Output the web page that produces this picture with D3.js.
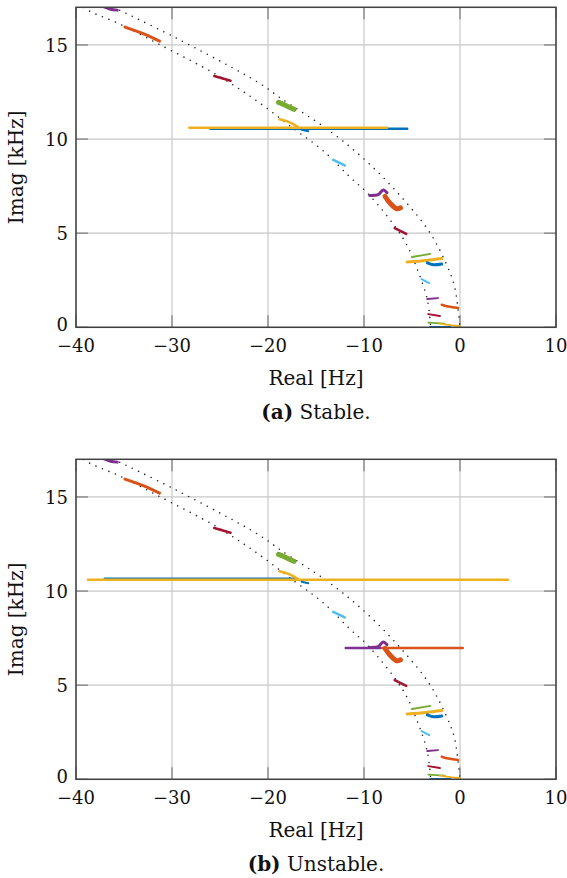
<!DOCTYPE html>
<html>
<head>
<meta charset="utf-8">
<script src="https://cdn.jsdelivr.net/npm/d3@7"></script>
<style>
  body { margin: 0; background: #fff; }
</style>
</head>
<body>
<svg id="fig" width="567" height="878" font-family="'DejaVu Serif', serif"></svg>
<script>
// axis ticks
const xTicks = [-40, -30, -20, -10, 0, 10];
const yTicks = [0, 5, 10, 15];

// MATLAB default colour order
const modeColors = ["#0072BD", "#D95319", "#EDB120", "#7E2F8E", "#77AC30", "#4DBEEE", "#A2142F"];

// dotted guide curves [real Hz, imag kHz]
const guideOuter = [[-36.1,17.0],[-29.7,15.4],[-21.0,13.0],[-18.75,12.2],[-13.5,10.4],[-9.7,8.8],
                    [-6.25,7.0],[-3.1,5.0],[-1.04,2.9],[-0.5,2.0],[0,0]];
const guideInner = [[-39.8,17.2],[-38.6,16.8],[-35.4,16.1],[-31.6,15.1],[-25.3,13.4],[-21.1,12.0],
                    [-17.2,10.5],[-14.3,9.4],[-11.5,8.0],[-9.4,7.0],[-5.9,4.7],[-4.5,3.15],[-3.4,1.45],[-3.05,0]];

// eigenvalue traces common to both cases: [colour index, points]
const tracesCommon = [
  [3, [[-37.2,17.05],[-36.4,16.9],[-35.7,16.85]]],
  [1, [[-34.9,15.95],[-33.0,15.6],[-31.3,15.2]]],
  [6, [[-25.6,13.35],[-23.9,13.1]]],
  [4, [[-18.9,11.95],[-18.2,11.8],[-17.3,11.58]]],
  [2, [[-18.8,11.05],[-17.8,10.9],[-16.9,10.65]]],
  [0, [[-16.5,10.5],[-15.8,10.42]]],
  [5, [[-13.2,8.9],[-12.0,8.6]]],
  [3, [[-9.4,7.0],[-8.5,7.05],[-8.0,7.3],[-7.6,7.15]]],
  [1, [[-7.8,6.95],[-7.3,6.6],[-6.6,6.3],[-6.2,6.35]]],
  [6, [[-6.8,5.27],[-5.6,4.96]]],
  [4, [[-5.0,3.73],[-3.1,3.9]]],
  [2, [[-5.5,3.47],[-3.5,3.55],[-1.9,3.65]]],
  [0, [[-3.4,3.42],[-2.8,3.32],[-1.9,3.36]]],
  [5, [[-4.0,2.56],[-3.2,2.35]]],
  [3, [[-3.4,1.5],[-2.3,1.55]]],
  [1, [[-1.9,1.2],[-1.2,1.1],[-0.2,1.02]]],
  [6, [[-3.3,0.7],[-2.1,0.6]]],
  [4, [[-3.3,0.25],[-1.6,0.2]]],
  [2, [[-2.1,0.2],[-1.0,0.12],[0,0.07]]],
  [0, [[-3.1,0.02],[-1.0,0.02]]]
];
const traceWeightsCommon = [3, 3, 2.5, 5, 2.5, 2, 2.5, 3, 5, 2.5, 2, 3, 3, 2, 2, 2.5, 2, 1.8, 1.8, 2];

// sweep branches that differ between the two cases
const sweepStable = [
  [0, [[-26.0,10.55],[-5.5,10.55]]],
  [2, [[-28.2,10.6],[-7.6,10.6]]]
];
const sweepUnstable = [
  [0, [[-37.0,10.66],[-17.0,10.66]]],
  [2, [[-38.75,10.6],[5.0,10.6]]],
  [3, [[-11.9,6.98],[-8.3,6.98]]],
  [1, [[-8.1,6.98],[0.3,6.98]]]
];

const panels = [
  { top: 7.3, sweep: sweepStable, tag: "(a)", caption: "Stable.", id: "a" },
  { top: 459.3, sweep: sweepUnstable, tag: "(b)", caption: "Unstable.", id: "b" }
];

const margin = { left: 76 };
const width = 480, height = 320;
const svg = d3.select("#fig");

panels.forEach(p => {
  const g = svg.append("g").attr("transform", `translate(${margin.left},${p.top})`);
  const x = d3.scaleLinear().domain([-40, 10]).range([0, width]);
  const y = d3.scaleLinear().domain([0, 17]).range([height, 0]);

  // grid
  g.append("g").selectAll("line").data(xTicks).join("line")
    .attr("x1", d => x(d)).attr("x2", d => x(d)).attr("y1", 0).attr("y2", height)
    .attr("stroke", "#c8c8c8").attr("stroke-width", 1.2);
  g.append("g").selectAll("line").data(yTicks).join("line")
    .attr("y1", d => y(d)).attr("y2", d => y(d)).attr("x1", 0).attr("x2", width)
    .attr("stroke", "#c8c8c8").attr("stroke-width", 1.2);

  // inner tick marks (both sides)
  const tl = 12;
  const tg = g.append("g").attr("stroke", "#8a8a8a").attr("stroke-width", 1.4);
  xTicks.forEach(t => {
    tg.append("line").attr("x1", x(t)).attr("x2", x(t)).attr("y1", height).attr("y2", height - tl);
    tg.append("line").attr("x1", x(t)).attr("x2", x(t)).attr("y1", 0).attr("y2", tl);
  });
  yTicks.forEach(t => {
    tg.append("line").attr("y1", y(t)).attr("y2", y(t)).attr("x1", 0).attr("x2", tl);
    tg.append("line").attr("y1", y(t)).attr("y2", y(t)).attr("x1", width).attr("x2", width - tl);
  });

  const clipId = "clip-" + p.id;
  g.append("clipPath").attr("id", clipId).append("rect")
    .attr("width", width).attr("height", height);
  const plot = g.append("g").attr("clip-path", `url(#${clipId})`);

  const line = d3.line().x(d => x(d[0])).y(d => y(d[1])).curve(d3.curveCatmullRom);

  // dotted guides
  [guideOuter, guideInner].forEach(gd => {
    plot.append("path").attr("d", line(gd))
      .attr("fill", "none").attr("stroke", "#222").attr("stroke-width", 1.6)
      .attr("stroke-linecap", "round").attr("stroke-dasharray", "0 7");
  });

  // sweep branches
  plot.append("g").selectAll("path").data(p.sweep).join("path")
    .attr("d", d => line(d[1]))
    .attr("fill", "none").attr("stroke", d => modeColors[d[0]])
    .attr("stroke-width", 2.5).attr("stroke-linecap", "round");

  // common traces
  plot.append("g").selectAll("path").data(tracesCommon).join("path")
    .attr("d", d => line(d[1]))
    .attr("fill", "none").attr("stroke", d => modeColors[d[0]])
    .attr("stroke-width", (d, i) => traceWeightsCommon[i])
    .attr("stroke-linecap", "round").attr("stroke-linejoin", "round");

  // box
  g.append("rect").attr("width", width).attr("height", height)
    .attr("fill", "none").attr("stroke", "#404040").attr("stroke-width", 1.5);

  // tick labels
  g.append("g").selectAll("text").data(xTicks).join("text")
    .attr("x", d => x(d)).attr("y", height + 25)
    .attr("text-anchor", "middle").attr("font-size", 18).attr("fill", "#111")
    .text(d => d < 0 ? "\u2212" + Math.abs(d) : d);
  g.append("g").selectAll("text").data(yTicks).join("text")
    .attr("x", -8).attr("y", d => y(d) + (d === 0 ? 4 : 7))
    .attr("text-anchor", "end").attr("font-size", 18).attr("fill", "#111")
    .text(d => d);

  // axis labels
  g.append("text").attr("transform", `translate(-53,${height / 2}) rotate(-90)`)
    .attr("text-anchor", "middle").attr("font-size", 20).attr("fill", "#111").text("Imag [kHz]");
  g.append("text").attr("x", width / 2).attr("y", height + 58)
    .attr("text-anchor", "middle").attr("font-size", 20).attr("fill", "#111").text("Real [Hz]");

  const cap = g.append("text").attr("x", width / 2).attr("y", height + 92)
    .attr("text-anchor", "middle").attr("font-size", 20).attr("fill", "#111");
  cap.append("tspan").attr("font-weight", "bold").text(p.tag);
  cap.append("tspan").text("\u00a0" + p.caption);
});
</script>
</body>
</html>
